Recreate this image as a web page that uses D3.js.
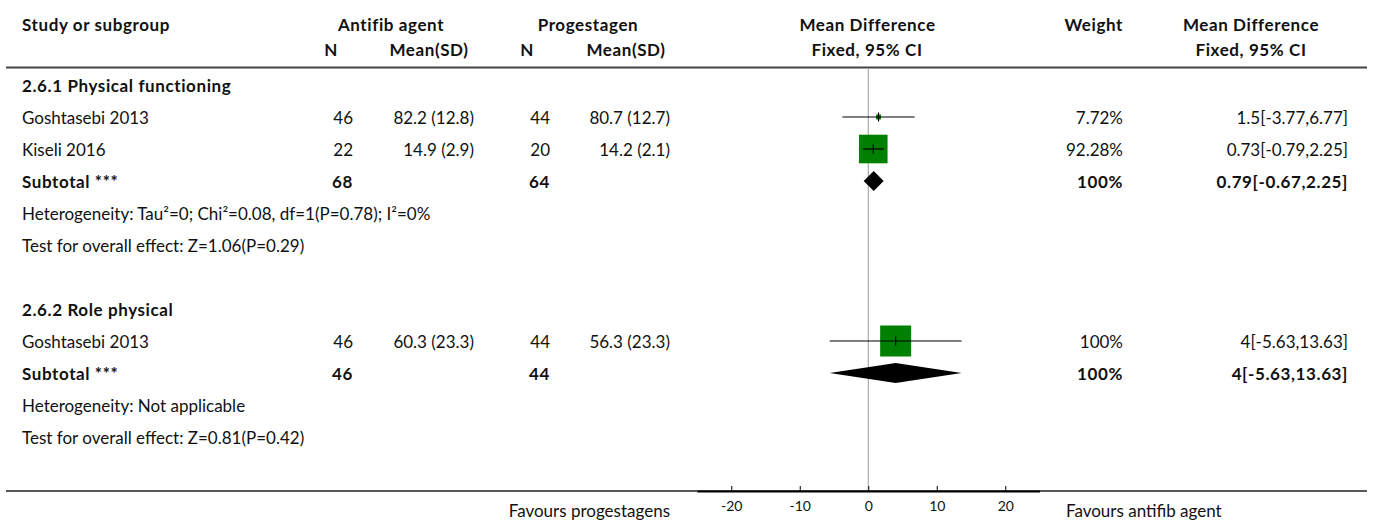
<!DOCTYPE html>
<html>
<head>
<meta charset="utf-8">
<script src="https://cdn.jsdelivr.net/npm/d3@7/dist/d3.min.js"></script>
<style>
body{margin:0;background:#fff;}
svg text{font-family:Lato,"Noto Sans",sans-serif;font-size:17px;fill:#111;}
.b{font-weight:bold;letter-spacing:0.6px;}
</style>
</head>
<body>
<div id="chart"></div>
<script>
// groups and studies
var groupTitles=["2.6.1 Physical functioning","2.6.2 Role physical"];
var studyNames=["Goshtasebi 2013","Kiseli 2016","Goshtasebi 2013"];
var studyGroup=[0,0,1];
var antifibN=[46,22,46];
var antifibMeanSd=["82.2 (12.8)","14.9 (2.9)","60.3 (23.3)"];
var progN=[44,20,44];
var progMeanSd=["80.7 (12.7)","14.2 (2.1)","56.3 (23.3)"];
var studyWeight=[7.72,92.28,100];
var studyMd=[1.5,0.73,4];
var studyLo=[-3.77,-0.79,-5.63];
var studyHi=[6.77,2.25,13.63];
// subtotals per group
var subAntifibN=[68,46];
var subProgN=[64,44];
var subWeight=[100,100];
var subMd=[0.79,4];
var subLo=[-0.67,-5.63];
var subHi=[2.25,13.63];
var heterogeneity=["Heterogeneity: Tau\u00b2=0; Chi\u00b2=0.08, df=1(P=0.78); I\u00b2=0%","Heterogeneity: Not applicable"];
var overallEffect=["Test for overall effect: Z=1.06(P=0.29)","Test for overall effect: Z=0.81(P=0.42)"];
// axis
var xTicks=[-20,-10,0,10,20];
var xDomain=[-25,25];
var favourLeft="Favours progestagens";
var favourRight="Favours antifib agent";

var width=1375,height=520;
var svg=d3.select("#chart").append("svg").attr("width",width).attr("height",height);

var x=d3.scaleLinear().domain(xDomain).range([697,1039.5]);
var rowY=d3.scaleLinear().domain([0,1]).range([85,117]);
var txtOff=7;
var boxMax=31;

// columns
var colStudy=22,colN1=353,colM1=474,colN2=550,colM2=670,colW=1123,colCI=1348;

function fmt(v){return String(v);}
function ciText(m,l,h){return fmt(m)+"["+fmt(l)+","+fmt(h)+"]";}

// build row list from the arrays
var rows=[];
var r=0;
groupTitles.forEach(function(g,gi){
	rows.push({type:"group",i:r++,text:g});
	studyNames.forEach(function(s,si){
		if(studyGroup[si]!=gi)return;
		rows.push({type:"study",i:r++,k:si});
	});
	rows.push({type:"sub",i:r++,k:gi});
	rows.push({type:"het",i:r++,text:heterogeneity[gi]});
	rows.push({type:"het",i:r++,text:overallEffect[gi]});
	r++;// blank row
});

function addText(x0,y0,t,anchor,bold){
	return svg.append("text").attr("x",x0).attr("y",y0+txtOff)
		.attr("text-anchor",anchor||"start").attr("class",bold?"b":null).text(t);
}

// header
var h1=24,h2=49;
addText(colStudy,h1,"Study or subgroup","start",true);
addText(391,h1,"Antifib agent","middle",true);
addText(588,h1,"Progestagen","middle",true);
addText(867.5,h1,"Mean Difference","middle",true);
addText(colW,h1,"Weight","end",true);
addText(1251,h1,"Mean Difference","middle",true);
addText(331,h2,"N","middle",true);
addText(429,h2,"Mean(SD)","middle",true);
addText(527,h2,"N","middle",true);
addText(626,h2,"Mean(SD)","middle",true);
addText(867,h2,"Fixed, 95% CI","middle",true);
addText(1251,h2,"Fixed, 95% CI","middle",true);

svg.append("line").attr("x1",6).attr("x2",1367).attr("y1",67.5).attr("y2",67.5)
	.attr("stroke","#444").attr("stroke-width",2);

var axisY=491;
// zero line
svg.append("line").attr("x1",x(0)).attr("x2",x(0)).attr("y1",69).attr("y2",axisY)
	.attr("stroke","#999").attr("stroke-width",1);

rows.forEach(function(d){
	var y=rowY(d.i);
	if(d.type=="group"){addText(colStudy,y,d.text,"start",true);}
	else if(d.type=="het"){addText(colStudy,y,d.text,"start",false);}
	else if(d.type=="study"){
		var k=d.k;
		addText(colStudy,y,studyNames[k]);
		addText(colN1,y,antifibN[k],"end");
		addText(colM1,y,antifibMeanSd[k],"end");
		addText(colN2,y,progN[k],"end");
		addText(colM2,y,progMeanSd[k],"end");
		addText(colW,y,studyWeight[k]+"%","end");
		addText(colCI,y,ciText(studyMd[k],studyLo[k],studyHi[k]),"end");
		var s=Math.max(boxMax*studyWeight[k]/100,5);
		svg.append("rect").attr("x",x(studyMd[k])-s/2).attr("y",y-s/2)
			.attr("width",s).attr("height",s).attr("fill","#008000");
		svg.append("line").attr("x1",x(studyLo[k])).attr("x2",x(studyHi[k]))
			.attr("y1",y).attr("y2",y).attr("stroke","#000").attr("stroke-width",1.2);
		svg.append("line").attr("x1",x(studyMd[k])).attr("x2",x(studyMd[k]))
			.attr("y1",y-4.5).attr("y2",y+4.5).attr("stroke","#000").attr("stroke-width",1.2);
	}
	else if(d.type=="sub"){
		var g=d.k;
		addText(colStudy,y,"Subtotal ***","start",true);
		addText(colN1,y,subAntifibN[g],"end",true);
		addText(colN2,y,subProgN[g],"end",true);
		addText(colW,y,subWeight[g]+"%","end",true);
		addText(colCI,y,ciText(subMd[g],subLo[g],subHi[g]),"end",true);
		var dh=10;
		svg.append("path").attr("d","M"+x(subLo[g])+","+y+"L"+x(subMd[g])+","+(y-dh)+
			"L"+x(subHi[g])+","+y+"L"+x(subMd[g])+","+(y+dh)+"Z").attr("fill","#000");
	}
});

// bottom line and axis
svg.append("line").attr("x1",6).attr("x2",1367).attr("y1",axisY).attr("y2",axisY)
	.attr("stroke","#222").attr("stroke-width",1.5);
var ax=svg.append("g").attr("transform","translate(0,"+axisY+")")
	.call(d3.axisBottom(x).tickValues(xTicks).tickFormat(function(d){return String(d);})
		.tickSizeInner(-5).tickSizeOuter(0).tickPadding(10));
ax.select(".domain").attr("stroke","#000").attr("stroke-width",2);
ax.selectAll("text").style("font-size","14px").attr("fill","#111");

addText(670,510,favourLeft,"end");
addText(1066,510,favourRight,"start");
</script>
</body>
</html>
